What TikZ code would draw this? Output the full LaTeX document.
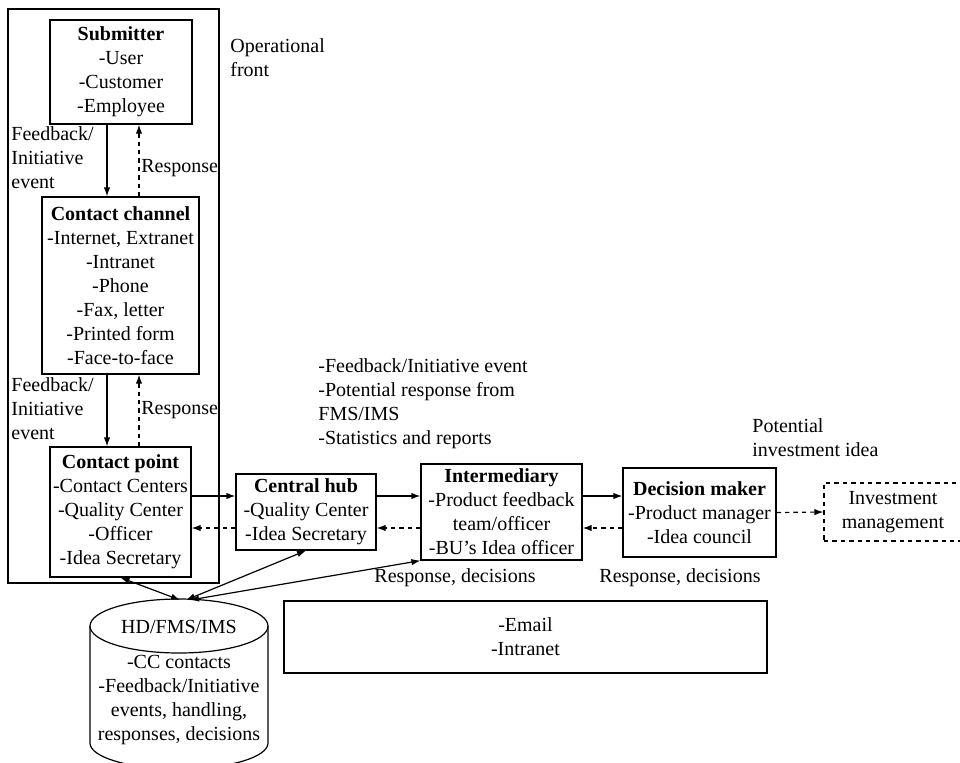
\documentclass[tikz,border=0pt]{standalone}
\usepackage{fontspec}
\setmainfont{Liberation Serif}
\usetikzlibrary{arrows.meta,calc}

\begin{document}
\begin{tikzpicture}[x=0.5pt,y=-0.5pt,>={Latex[length=4.5pt,width=3.2pt]},
    every node/.style={font=\fontsize{10}{12}\selectfont,inner sep=0pt},
    box/.style={draw,line width=0.6pt,align=center},
    resp/.style={dash pattern=on 2.2pt off 2pt},
    lab/.style={anchor=west,align=left}]
    \useasboundingbox (0,0) rectangle (960,762);
    % operational front
    \draw[line width=0.6pt] (8,9) rectangle (219,583);
    \node[lab,anchor=north west] (opfront) at (230,38) {Operational\\front};
    % actors
    \node[box,minimum width=71pt,minimum height=52pt] (sub) at (121,72)
        {\textbf{Submitter}\\-User\\-Customer\\-Employee};
    \node[box,minimum width=78.5pt,minimum height=88.5pt] (chan) at (120.5,285.5)
        {\textbf{Contact channel}\\-Internet, Extranet\\-Intranet\\-Phone\\-Fax, letter\\-Printed form\\-Face-to-face};
    \node[box,minimum width=70.5pt,minimum height=65pt] (cp) at (120.5,512)
        {\textbf{Contact point}\\-Contact Centers\\-Quality Center\\-Officer\\-Idea Secretary};
    \node[box,minimum width=70pt,minimum height=38pt] (hub) at (306,512)
        {\textbf{Central hub}\\-Quality Center\\-Idea Secretary};
    \node[box,minimum width=80.5pt,minimum height=48pt] (inter) at (501.5,512)
        {\textbf{Intermediary}\\-Product feedback\\team/officer\\-BU’s Idea officer};
    \node[box,minimum width=76.5pt,minimum height=44.5pt] (dec) at (699.5,512.5)
        {\textbf{Decision maker}\\-Product manager\\-Idea council};
    \node[box,resp,minimum width=69pt,minimum height=29pt] (inv) at (893,512)
        {Investment\\management};
    \node[box,minimum width=241.5pt,minimum height=36pt] (mail) at (525.5,637)
        {-Email\\-Intranet};
    % database
    \draw[line width=0.6pt] (179,626) ellipse[x radius=89,y radius=27];
    \draw[line width=0.6pt] (90,626) -- (90,743)
        arc[start angle=180,end angle=0,x radius=89,y radius=26] -- (268,626);
    \node (dbname) at (179,627) {HD/FMS/IMS};
    \node[align=center] (dbtext) at (179,700)
        {-CC contacts\\-Feedback/Initiative\\events, handling,\\responses, decisions};
    \coordinate (db1) at (180,600);
    \coordinate (db2) at (186,600);
    \coordinate (db3) at (190,600);
    % flows
    \coordinate (fw) at (107,0);
    \coordinate (bk) at (139,0);
    \coordinate (to) at (0,496);
    \coordinate (fro) at (0,528);
    \draw[->,line width=0.6pt] (sub.south -| fw) -- (chan.north -| fw);
    \draw[->,resp,line width=0.6pt] (chan.north -| bk) -- (sub.south -| bk);
    \draw[->,line width=0.6pt] (chan.south -| fw) -- (cp.north -| fw);
    \draw[->,resp,line width=0.6pt] (cp.north -| bk) -- (chan.south -| bk);
    \node[lab] (fb1) at (11,158) {Feedback/\\Initiative\\event};
    \node[lab] (rs1) at (141,168) {Response};
    \node[lab] (fb2) at (11,409) {Feedback/\\Initiative\\event};
    \node[lab] (rs2) at (141,410) {Response};
    \foreach \a/\b in {cp/hub,hub/inter,inter/dec}{
        \draw[->,line width=0.6pt] (\a.east |- to) -- (\b.west |- to);
        \draw[->,resp,line width=0.6pt] (\b.west |- fro) -- (\a.east |- fro);
    }
    \draw[->,resp,line width=0.6pt] (dec.east) -- (inv.west);
    \draw[<->,line width=0.6pt] (cp.south) -- (db1);
    \draw[<->,line width=0.6pt] (hub.south) -- (db2);
    \draw[<->,line width=0.6pt] (inter.south west) -- (db3);
    \node[lab] (flow) at (318,404)
        {-Feedback/Initiative event\\-Potential response from\\FMS/IMS\\-Statistics and reports};
    \node[lab] (invidea) at (752,438) {Potential\\investment idea};
    \node (rd1) at (455,578) {Response, decisions};
    \node (rd2) at (680,578) {Response, decisions};
\end{tikzpicture}
\end{document}
